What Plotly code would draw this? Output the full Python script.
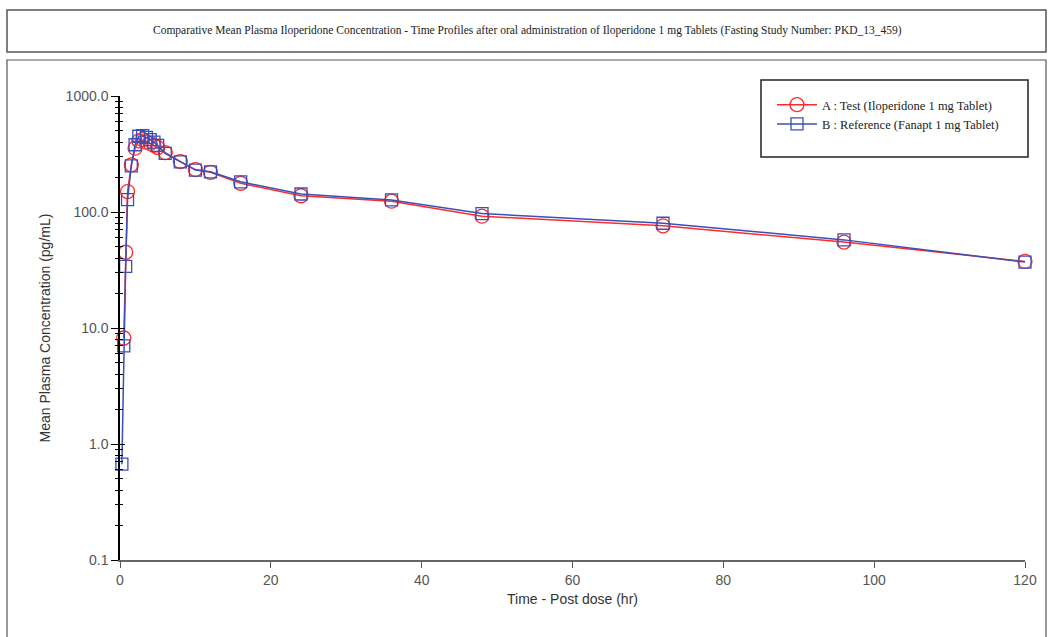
import plotly.graph_objects as go

# ---- data ----
times = [0.25, 0.5, 0.75, 1, 1.5, 2, 2.5, 3, 3.5, 4, 4.5, 5, 6, 8, 10, 12, 16, 24, 36, 48, 72, 96, 120]
test_conc = [None, 8.2, 45, 150, 255, 355, 410, 420, 400, 390, 375, 360, 325, 272, 232, 220, 177, 138, 124, 92, 76, 55, 37.5]
ref_conc = [0.67, 7.0, 34, 128, 250, 380, 450, 455, 440, 420, 400, 375, 320, 270, 230, 222, 182, 143, 127, 97, 80, 57.5, 37]

test_name = "A : Test (Iloperidone 1 mg Tablet)"
ref_name = "B : Reference (Fanapt 1 mg Tablet)"
title_text = ("Comparative Mean Plasma Iloperidone Concentration - Time Profiles after oral administration "
              "of Iloperidone 1 mg Tablets (Fasting Study Number: PKD_13_459)")
x_title = "Time - Post dose (hr)"
y_title = "Mean Plasma Concentration (pg/mL)"
y_tickvals = [0.1, 1, 10, 100, 1000]
y_ticktext = ["0.1", "1.0", "10.0", "100.0", "1000.0"]
x_tickvals = [0, 20, 40, 60, 80, 100, 120]

# ---- layout geometry (pixels) ----
W, H = 1054, 637
L, R, T, B = 120, 1025, 96, 560


def px(X):
    return (X - L) / (R - L)


def py(Y):
    return (B - Y) / (B - T)


minor_vals = [m * 10 ** e for e in range(-1, 3) for m in range(2, 10)]

fig = go.Figure()
fig.add_trace(go.Scatter(
    x=times, y=test_conc, name=test_name, mode="lines+markers",
    line=dict(color="#ff2a2a", width=1.5),
    marker=dict(symbol="circle-open", size=14, color="#ff2a2a", line=dict(width=1.3)),
    connectgaps=False, cliponaxis=False,
))
fig.add_trace(go.Scatter(
    x=times, y=ref_conc, name=ref_name, mode="lines+markers",
    line=dict(color="#3a4fb8", width=1.5),
    marker=dict(symbol="square-open", size=12, color="#3a4fb8", line=dict(width=1.3)),
    cliponaxis=False,
))
# dummy trace to render the overlay axis (inside ticks)
fig.add_trace(go.Scatter(x=[60], y=[1], yaxis="y2", mode="markers", opacity=0,
                         showlegend=False, hoverinfo="skip"))

shapes = [
    # title box
    dict(type="rect", xref="paper", yref="paper", x0=px(7), x1=px(1046), y0=py(52), y1=py(10),
         line=dict(color="#555555", width=1.5), fillcolor="rgba(0,0,0,0)"),
    # chart frame
    dict(type="rect", xref="paper", yref="paper", x0=px(7), x1=px(1046), y0=py(645), y1=py(60),
         line=dict(color="#555555", width=1.2), fillcolor="rgba(0,0,0,0)"),
    # legend box
    dict(type="rect", xref="paper", yref="paper", x0=px(761), x1=px(1028), y0=py(157), y1=py(80),
         line=dict(color="#222222", width=1.5), fillcolor="white", layer="below"),
]

fig.update_layout(
    width=W, height=H,
    margin=dict(l=L, r=W - R, t=T, b=H - B, pad=0),
    paper_bgcolor="white", plot_bgcolor="white",
    font=dict(family="Liberation Sans, Arial, sans-serif", color="#333333"),
    showlegend=True,
    legend=dict(x=px(772), y=py(90), xanchor="left", yanchor="top",
                bgcolor="rgba(0,0,0,0)", borderwidth=0,
                font=dict(family="Liberation Serif, Times New Roman, serif", size=12.5, color="#222222"),
                tracegroupgap=0, itemwidth=40),
    shapes=shapes,
    annotations=[dict(text=title_text, xref="paper", yref="paper", x=px(527), y=py(31),
                      xanchor="center", yanchor="middle", showarrow=False,
                      font=dict(family="Liberation Serif, Times New Roman, serif", size=11.5, color="#222222"))],
    xaxis=dict(range=[0, 120], tickvals=x_tickvals, ticks="outside", ticklen=6, tickwidth=1,
               tickcolor="#555555", showline=True, linecolor="#666666", linewidth=1.5,
               showgrid=False, zeroline=False, tickfont=dict(size=14, color="#555555"),
               title=dict(text=x_title, font=dict(size=14, color="#333333"), standoff=8)),
    yaxis=dict(type="log", range=[-1, 3], tickvals=y_tickvals, ticktext=y_ticktext,
               ticks="outside", ticklen=7, tickwidth=1.2, tickcolor="black",
               showline=True, linecolor="black", linewidth=1.5, showgrid=False, zeroline=False,
               tickfont=dict(size=14, color="#555555"),
               minor=dict(tickvals=minor_vals, ticks="outside", ticklen=3, tickcolor="black", showgrid=False),
               title=dict(text=y_title, font=dict(size=14, color="#333333"), standoff=12)),
    yaxis2=dict(type="log", range=[-1, 3], overlaying="y", side="left", anchor="x",
                tickvals=y_tickvals, ticks="inside", ticklen=5, tickwidth=1.2, tickcolor="black",
                showticklabels=False, showline=False, showgrid=False, zeroline=False,
                minor=dict(tickvals=minor_vals, ticks="inside", ticklen=3, tickcolor="black", showgrid=False)),
)

fig.write_html("out.html")
